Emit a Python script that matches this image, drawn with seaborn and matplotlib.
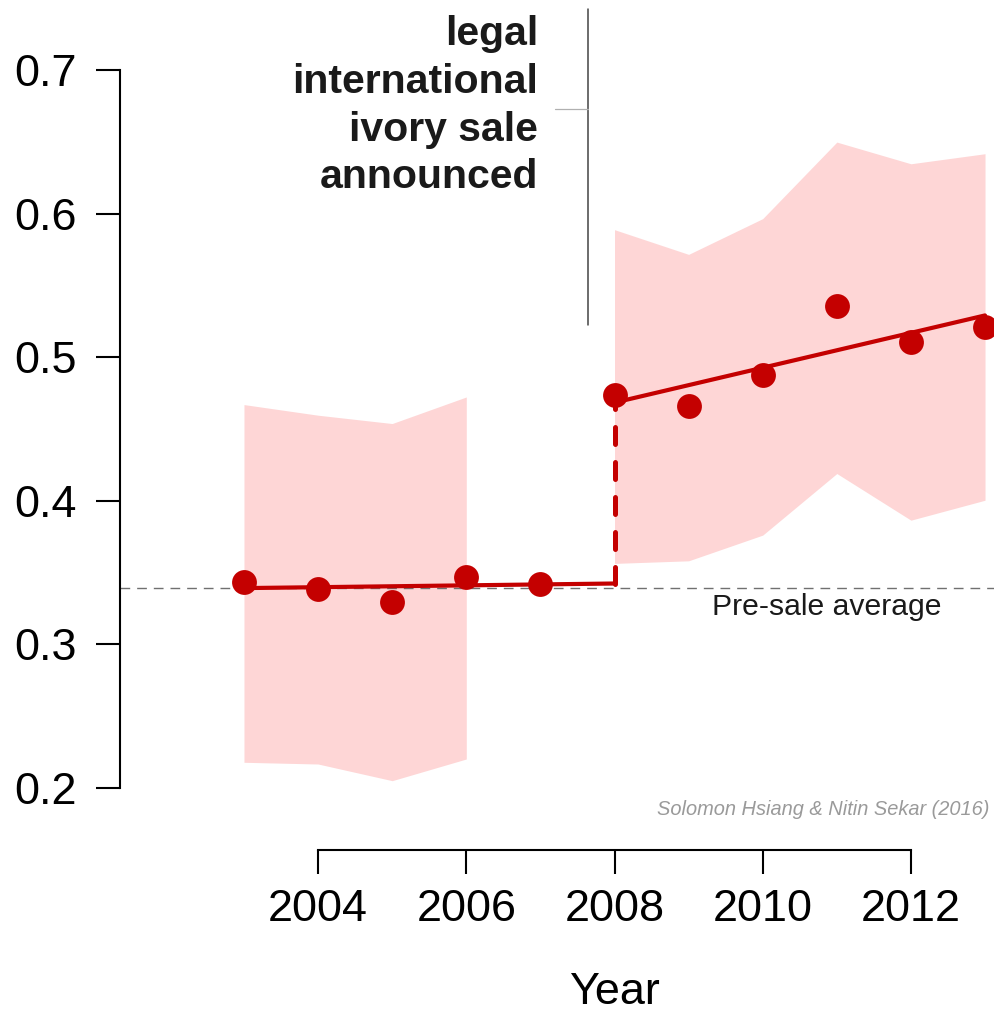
import seaborn as sns
import matplotlib.pyplot as plt
import pandas as pd

# yearly point estimates
years = [2003, 2004, 2005, 2006, 2007, 2008, 2009, 2010, 2011, 2012, 2013]
share = [0.3436, 0.3383, 0.3296, 0.3466, 0.3420,
         0.4735, 0.4658, 0.4874, 0.5356, 0.5106, 0.5210]

# confidence bands
pre_band_years = [2003, 2004, 2005, 2006]
pre_band_lo = [0.2179, 0.2167, 0.2051, 0.2202]
pre_band_hi = [0.4670, 0.4596, 0.4538, 0.4723]

post_band_years = [2008, 2009, 2010, 2011, 2012, 2013]
post_band_lo = [0.3564, 0.3582, 0.3761, 0.4190, 0.3865, 0.4004]
post_band_hi = [0.5888, 0.5716, 0.5965, 0.6498, 0.6347, 0.6417]

# fitted trend lines (end points)
pre_fit_years = [2003, 2008]
pre_fit = [0.3392, 0.3424]
post_fit_years = [2008, 2013]
post_fit = [0.4684, 0.5291]

pre_sale_avg = 0.3395
sale_year = 2008

y_ticks = [0.2, 0.3, 0.4, 0.5, 0.6, 0.7]
y_tick_labels = ["0.2", "0.3", "0.4", "0.5", "0.6", "0.7"]
x_ticks = [2004, 2006, 2008, 2010, 2012]

RED = "#c40000"
PINK = "#fed6d6"

sns.set_style("ticks")
plt.rcParams["font.family"] = ["Liberation Sans", "DejaVu Sans"]

df = pd.DataFrame({"Year": years, "share": share})
pre_df = pd.DataFrame({"Year": pre_fit_years, "fit": pre_fit})
post_df = pd.DataFrame({"Year": post_fit_years, "fit": post_fit})

fig = plt.figure(figsize=(9.94, 10.14), dpi=100)
ax = fig.add_axes([120 / 994, 164 / 1014, 874 / 994, 850 / 1014])

# bands
ax.fill_between(pre_band_years, pre_band_lo, pre_band_hi, color=PINK, lw=0, zorder=1)
ax.fill_between(post_band_years, post_band_lo, post_band_hi, color=PINK, lw=0, zorder=1)

# pre-sale average reference
ax.axhline(pre_sale_avg, color="#707070", lw=1.0, dashes=(7, 5), zorder=2)

# trend lines
sns.lineplot(data=pre_df, x="Year", y="fit", color=RED, lw=3.0, ax=ax, zorder=3)
sns.lineplot(data=post_df, x="Year", y="fit", color=RED, lw=3.0, ax=ax, zorder=3)
ax.plot([sale_year, sale_year], [pre_fit[-1], post_fit[0]], color=RED, lw=3.6,
        dashes=(3.4, 3.6), dash_capstyle="round", zorder=3)

# points
sns.scatterplot(data=df, x="Year", y="share", color=RED, s=320, linewidth=0,
                ax=ax, zorder=4, clip_on=False)

ax.set_xlim(2001.327, 2013.121)
ax.set_ylim(0.15682, 0.74875)

ax.set_yticks(y_ticks)
ax.set_yticklabels(y_tick_labels)
ax.set_xticks(x_ticks)
ax.set_xticklabels([str(x) for x in x_ticks])

sns.despine(ax=ax)
ax.spines["left"].set_bounds(0.2, 0.7)
ax.spines["bottom"].set_bounds(2004, 2012)
for side in ["left", "bottom"]:
    ax.spines[side].set_linewidth(1.5)
    ax.spines[side].set_color("black")

ax.tick_params(axis="both", direction="out", length=17.3, width=1.5,
               labelsize=32.4, color="black", labelcolor="black")
ax.tick_params(axis="y", pad=14)
ax.tick_params(axis="x", pad=11)

ax.set_ylabel("")
ax.set_xlabel("Year", fontsize=32.4, color="black")
ax.xaxis.set_label_coords(0.5658, -0.143)

# announcement marker
ax.plot([2007.642, 2007.642], [0.5222, 0.7428], color="#444444", lw=1.1,
        clip_on=False, zorder=2)
ax.plot([2007.197, 2007.642], [0.6725, 0.6725], color="#b0b0b0", lw=0.9,
        clip_on=False, zorder=2)
ax.text(2006.967, 0.7385, "legal\ninternational\nivory sale\nannounced",
        ha="right", va="top", fontsize=29.5, fontweight="bold",
        color="#1a1a1a", linespacing=1.33)

ax.text(2010.867, 0.3204, "Pre-sale average", ha="center", va="baseline",
        fontsize=21.7, color="#1a1a1a")
ax.text(2013.065, 0.1810, "Solomon Hsiang & Nitin Sekar (2016)", ha="right",
        va="baseline", fontsize=14.4, style="italic", color="#9a9a9a")

fig.savefig("out.png", dpi=100)
